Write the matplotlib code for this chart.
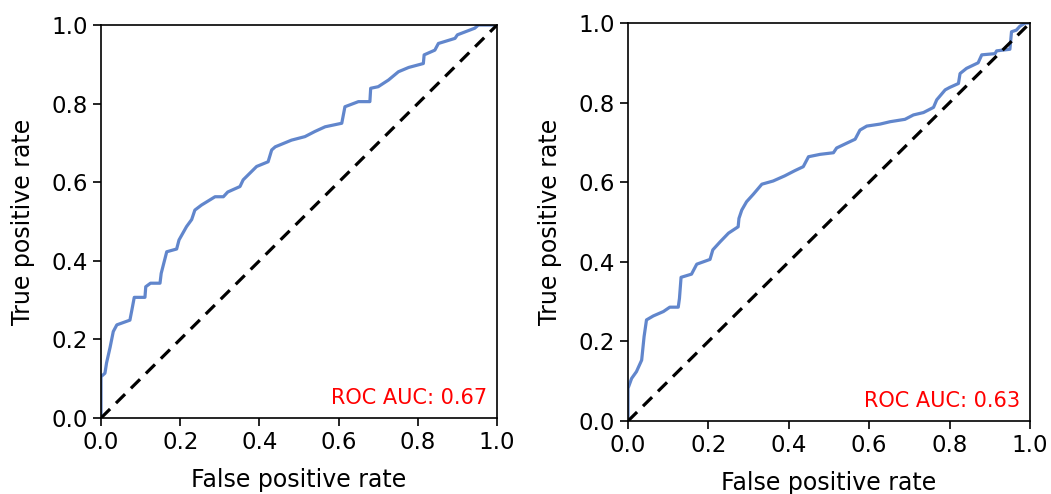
import matplotlib
matplotlib.use("Agg")
import matplotlib.pyplot as plt

# Left panel ROC (fpr, tpr)
fpr_left = [0.0, 0.0, 0.01, 0.014, 0.023, 0.031, 0.04, 0.073, 0.078, 0.084, 0.111, 0.113, 0.125,
            0.149, 0.152, 0.166, 0.191, 0.197, 0.216, 0.229, 0.237, 0.254, 0.267, 0.288, 0.309,
            0.32, 0.351, 0.359, 0.376, 0.393, 0.422, 0.431, 0.44, 0.481, 0.515, 0.54, 0.566,
            0.608, 0.616, 0.65, 0.679, 0.681, 0.70, 0.726, 0.751, 0.777, 0.814, 0.816, 0.843,
            0.852, 0.894, 0.90, 0.944, 0.953, 1.0]
tpr_left = [0.0, 0.105, 0.114, 0.14, 0.18, 0.22, 0.237, 0.249, 0.275, 0.307, 0.307, 0.334, 0.343,
            0.343, 0.368, 0.423, 0.43, 0.453, 0.487, 0.505, 0.529, 0.542, 0.55, 0.563, 0.563,
            0.575, 0.589, 0.606, 0.623, 0.64, 0.652, 0.682, 0.69, 0.707, 0.716, 0.729, 0.741,
            0.75, 0.792, 0.805, 0.805, 0.839, 0.843, 0.86, 0.881, 0.892, 0.902, 0.924, 0.936,
            0.953, 0.966, 0.975, 0.992, 1.0, 1.0]

# Right panel ROC (fpr, tpr)
fpr_right = [0.0, 0.0, 0.009, 0.021, 0.034, 0.04, 0.046, 0.063, 0.088, 0.104, 0.125, 0.128, 0.132,
             0.158, 0.171, 0.204, 0.211, 0.229, 0.25, 0.274, 0.276, 0.283, 0.295, 0.312, 0.333,
             0.361, 0.39, 0.415, 0.436, 0.449, 0.478, 0.511, 0.519, 0.544, 0.565, 0.577, 0.594,
             0.627, 0.652, 0.689, 0.71, 0.735, 0.76, 0.768, 0.789, 0.80, 0.822, 0.826, 0.842,
             0.871, 0.88, 0.913, 0.917, 0.95, 0.954, 0.966, 0.975, 0.988, 1.0]
tpr_right = [0.0, 0.082, 0.107, 0.124, 0.153, 0.212, 0.254, 0.264, 0.275, 0.286, 0.286, 0.308, 0.361,
             0.369, 0.394, 0.406, 0.43, 0.45, 0.472, 0.488, 0.509, 0.53, 0.551, 0.57, 0.595,
             0.603, 0.616, 0.629, 0.639, 0.664, 0.670, 0.674, 0.686, 0.698, 0.708, 0.731, 0.741,
             0.746, 0.752, 0.758, 0.769, 0.775, 0.788, 0.807, 0.832, 0.838, 0.848, 0.873, 0.886,
             0.9, 0.92, 0.923, 0.93, 0.934, 0.978, 0.982, 0.992, 1.0, 1.0]

auc_labels = ["ROC AUC: 0.67", "ROC AUC: 0.63"]
diag = [0.0, 1.0]
tick_vals = [0.0, 0.2, 0.4, 0.6, 0.8, 1.0]

curve_color = "#6186cc"
fs_tick = 16.5
fs_label = 17

fig = plt.figure(figsize=(10.51, 4.94), dpi=100)
W, H = 1051, 494
ax1 = fig.add_axes([101 / W, 1 - 418 / H, 396 / W, 393 / H])
ax2 = fig.add_axes([628 / W, 1 - 421 / H, 402 / W, 398 / H])

for ax, fx, ty, lab in [(ax1, fpr_left, tpr_left, auc_labels[0]),
                        (ax2, fpr_right, tpr_right, auc_labels[1])]:
    ax.plot(fx, ty, color=curve_color, lw=2.3)
    ax.plot(diag, diag, color="black", lw=2.3, ls=(0, (4, 2.6)))
    ax.set_xlim(0, 1)
    ax.set_ylim(0, 1)
    ax.set_xticks(tick_vals)
    ax.set_yticks(tick_vals)
    ax.tick_params(labelsize=fs_tick, length=6, width=1.2)
    ax.set_xlabel("False positive rate", fontsize=fs_label, labelpad=10)
    ax.set_ylabel("True positive rate", fontsize=fs_label, labelpad=12)
    for s in ax.spines.values():
        s.set_linewidth(1.2)
    ax.text(0.975, 0.035, lab, color="red", fontsize=15,
            ha="right", va="baseline", transform=ax.transAxes)

fig.savefig("out.png", dpi=100)
